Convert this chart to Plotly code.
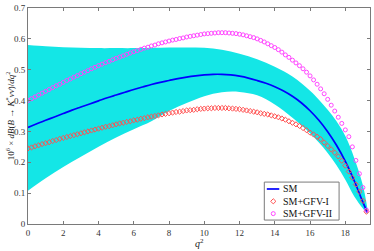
import numpy as np
import plotly.graph_objects as go

# marker grid (q^2)
q2_pts = np.round(np.arange(0, 19.21, 0.2), 1)

gfv1 = [0.245,0.248,0.252,0.255,0.259,0.262,0.265,0.269,0.272,0.276,
        0.279,0.282,0.285,0.288,0.291,0.294,0.297,0.300,0.303,0.306,
        0.309,0.312,0.315,0.317,0.320,0.323,0.326,0.328,0.331,0.333,
        0.336,0.338,0.341,0.343,0.346,0.348,0.350,0.352,0.355,0.357,
        0.359,0.361,0.363,0.364,0.366,0.368,0.369,0.370,0.372,0.373,
        0.374,0.375,0.375,0.376,0.376,0.376,0.376,0.375,0.374,0.373,
        0.372,0.370,0.368,0.366,0.364,0.362,0.359,0.357,0.355,0.352,
        0.349,0.346,0.342,0.338,0.333,0.328,0.323,0.318,0.311,0.304,
        0.296,0.290,0.283,0.275,0.264,0.253,0.242,0.231,0.219,0.205,
        0.189,0.170,0.150,0.128,0.105,0.075,0.040]

gfv2 = [0.400,0.406,0.412,0.418,0.424,0.430,0.436,0.442,0.448,0.453,
        0.459,0.465,0.470,0.476,0.481,0.487,0.492,0.497,0.503,0.508,
        0.513,0.518,0.523,0.527,0.532,0.537,0.541,0.545,0.550,0.554,
        0.558,0.562,0.566,0.570,0.573,0.577,0.580,0.584,0.587,0.590,
        0.593,0.596,0.598,0.601,0.603,0.606,0.608,0.610,0.612,0.614,
        0.616,0.617,0.618,0.619,0.620,0.620,0.620,0.619,0.618,0.617,
        0.615,0.613,0.610,0.607,0.604,0.600,0.595,0.590,0.584,0.578,
        0.572,0.565,0.557,0.548,0.540,0.531,0.522,0.513,0.503,0.492,
        0.480,0.467,0.453,0.438,0.422,0.404,0.385,0.366,0.346,0.326,
        0.305,0.283,0.250,0.206,0.163,0.118,0.045]

# SM central curve
q2_sm = [0,0.5,1,1.5,2,2.5,3,3.5,4,4.5,5,5.5,6,6.5,7,7.5,8,8.5,9,9.5,
         10,10.5,11,11.5,12,12.5,13,13.5,14,14.5,15,15.5,16,16.5,17,17.5,
         18,18.5,19,19.25]
sm = [0.313,0.325,0.336,0.347,0.358,0.369,0.379,0.389,0.399,0.409,
      0.418,0.427,0.436,0.444,0.452,0.459,0.465,0.471,0.476,0.480,
      0.483,0.485,0.485,0.483,0.479,0.473,0.465,0.456,0.445,0.431,
      0.414,0.393,0.367,0.336,0.299,0.255,0.203,0.141,0.070,0.038]

# SM uncertainty band
q2_band = [0,1,2,3,4,5,6,7,8,9,10,11,12,13,14,15,16,16.5,17,17.5,18,18.5,19,19.25]
band_up = [0.580,0.576,0.573,0.571,0.570,0.570,0.570,0.571,0.572,0.572,
           0.571,0.565,0.552,0.534,0.510,0.478,0.432,0.403,0.370,0.333,
           0.285,0.215,0.125,0.050]
band_lo = [0.108,0.148,0.185,0.218,0.250,0.280,0.307,0.333,0.366,0.392,
           0.414,0.427,0.428,0.417,0.387,0.344,0.294,0.264,0.230,0.190,
           0.143,0.090,0.050,0.032]

x_ticks = [0,2,4,6,8,10,12,14,16,18]
y_ticks = [0,0.1,0.2,0.3,0.4,0.5,0.6,0.7]
legend_names = ["SM", "SM+GFV-I", "SM+GFV-II"]

CYAN = "rgb(20,230,230)"
BLUE = "rgb(0,0,255)"
RED = "rgb(255,80,80)"
MAG = "rgb(255,70,255)"
FONT = "Liberation Serif"
GRAY = "#7a7a7a"

fig = go.Figure()
fig.add_trace(go.Scatter(x=q2_band, y=band_up, mode="lines",
                         line=dict(width=0, shape="spline", color=CYAN),
                         showlegend=False, hoverinfo="skip"))
fig.add_trace(go.Scatter(x=q2_band, y=band_lo, mode="lines",
                         line=dict(width=0, shape="spline", color=CYAN),
                         fill="tonexty", fillcolor=CYAN,
                         showlegend=False, hoverinfo="skip"))
fig.add_trace(go.Scatter(x=q2_sm, y=sm, mode="lines", name=legend_names[0],
                         showlegend=False,
                         line=dict(color=BLUE, width=1.7, shape="spline")))
fig.add_trace(go.Scatter(x=q2_pts, y=gfv1, mode="markers", name=legend_names[1],
                         showlegend=False,
                         marker=dict(symbol="diamond-open", size=4,
                                     color=RED, line=dict(width=1))))
fig.add_trace(go.Scatter(x=q2_pts, y=gfv2, mode="markers", name=legend_names[2],
                         showlegend=False,
                         marker=dict(symbol="circle-open", size=4,
                                     color=MAG, line=dict(width=1))))

# ---- custom compact legend on an overlay axis in pixel-like units ----
bx0, bx1, by0, by1 = 265, 340, 181.5, 220
fig.add_trace(go.Scatter(x=[bx0, bx1, bx1, bx0, bx0], y=[by0, by0, by1, by1, by0],
                         mode="lines", fill="toself", fillcolor="white",
                         line=dict(color=GRAY, width=1),
                         xaxis="x2", yaxis="y2", showlegend=False, hoverinfo="skip"))
row_y = [188.5, 201, 213.5]
fig.add_trace(go.Scatter(x=[267.5, 280], y=[row_y[0], row_y[0]], mode="lines",
                         line=dict(color=BLUE, width=1.7),
                         xaxis="x2", yaxis="y2", showlegend=False, hoverinfo="skip"))
fig.add_trace(go.Scatter(x=[274], y=[row_y[1]], mode="markers",
                         marker=dict(symbol="diamond-open", size=4, color=RED, line=dict(width=1)),
                         xaxis="x2", yaxis="y2", showlegend=False, hoverinfo="skip"))
fig.add_trace(go.Scatter(x=[274], y=[row_y[2]], mode="markers",
                         marker=dict(symbol="circle-open", size=4, color=MAG, line=dict(width=1)),
                         xaxis="x2", yaxis="y2", showlegend=False, hoverinfo="skip"))
for name, ry in zip(legend_names, row_y):
    fig.add_annotation(x=282, y=ry, xref="x2", yref="y2", text=name,
                       showarrow=False, xanchor="left", yanchor="middle",
                       font=dict(family=FONT, size=10, color="#111"))

axis_common = dict(showline=True, linecolor=GRAY, linewidth=1,
                   mirror="ticks", ticks="inside", ticklen=3, tickwidth=1,
                   tickcolor=GRAY, showgrid=False, zeroline=False,
                   tickfont=dict(family=FONT, size=9, color="#333"))

fig.update_xaxes(range=[0, 19.4], tickvals=x_ticks, **axis_common)
fig.update_yaxes(range=[0, 0.7], tickvals=y_ticks,
                 ticktext=[str(v) for v in y_ticks], **axis_common)

fig.update_layout(
    xaxis2=dict(overlaying="x", range=[28, 371], visible=False, fixedrange=True),
    yaxis2=dict(overlaying="y", range=[224, 5], visible=False, fixedrange=True),
)

# axis titles
fig.add_annotation(x=0.5, y=-0.09, xref="paper", yref="paper",
                   text="<i>q</i><sup>2</sup>", showarrow=False,
                   xanchor="center", yanchor="middle",
                   font=dict(family=FONT, size=10, color="#222"))
fig.add_annotation(x=-0.052, y=0.5, xref="paper", yref="paper", textangle=-90,
                   text="10<sup>6</sup> × <i>dB</i>(<i>B</i> → <i>K</i><sup>*</sup><i>νν̄</i>)/<i>dq</i><sup>2</sup>",
                   showarrow=False, xanchor="center", yanchor="middle",
                   font=dict(family=FONT, size=9, color="#222"))

fig.update_layout(
    width=374, height=251,
    margin=dict(l=28, r=3, t=5, b=27),
    paper_bgcolor="white", plot_bgcolor="white",
    font=dict(family=FONT, size=10, color="#222"),
    showlegend=False,
)

fig.write_html("out.html", config={"displayModeBar": False},
               post_script="document.body.style.margin='0';document.body.style.padding='0';")
